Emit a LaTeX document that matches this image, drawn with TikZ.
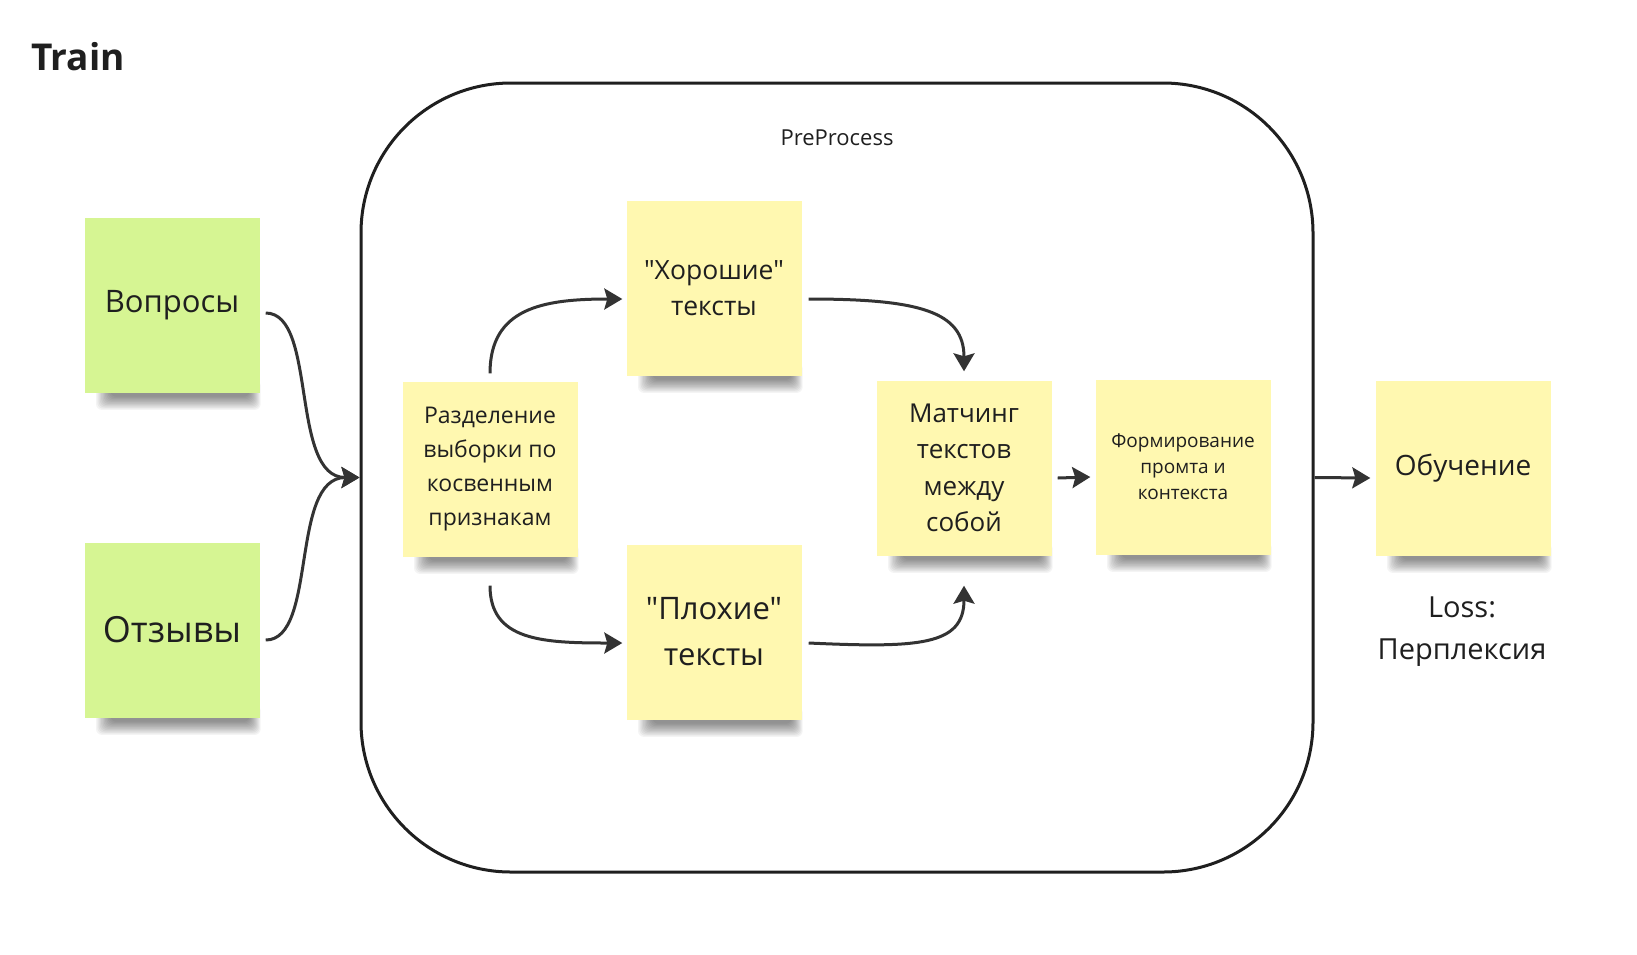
\documentclass[tikz,border=0pt]{standalone}
\usepackage{fontspec}
\setmainfont{Open Sans}[Ligatures=TeXOff]
\usetikzlibrary{arrows.meta,calc}
\definecolor{noteY}{HTML}{FFF8B0}
\definecolor{noteG}{HTML}{D6F593}
\definecolor{ink}{HTML}{1F1F1F}
\definecolor{wire}{HTML}{333333}
\pgfdeclarelayer{bglayer}
\pgfdeclarelayer{shadlayer}
\pgfsetlayers{bglayer,shadlayer,main}
\begin{document}
\begin{tikzpicture}[x=1pt,y=-1pt,
  note/.style={minimum width=175pt,minimum height=175pt,inner sep=0pt,align=center,text=ink},
  yel/.style={note,fill=noteY},
  grn/.style={note,fill=noteG},
  wirearrow/.style={draw=wire,line width=3pt,-{Stealth[length=18pt,width=21pt,inset=3pt]}},
  shadowlayer/.style={fill=black,fill opacity=0.045,rounded corners=6pt},
  plain/.style={inner sep=0pt,align=center,text=ink}
  ]
\begin{pgfonlayer}{bglayer}
  \fill[white] (0,0) rectangle (1637,954);
\end{pgfonlayer}
\useasboundingbox (0,0) rectangle (1637,954);

\node[plain,anchor=base west,font=\fontsize{37}{44}\selectfont\bfseries] (title) at (31,70) {Train};

\node[draw=ink,line width=3pt,rounded corners=150pt,minimum width=952pt,minimum height=789pt] (pre) at (837,477.5) {};
\node[plain,anchor=base,font=\fontsize{22}{28}\selectfont] (prelabel) at (837,145) {PreProcess};

\node[grn,font=\fontsize{31}{40}\selectfont] (vop) at (172,305) {Вопросы};
\node[grn,font=\fontsize{36}{46}\selectfont] (otz) at (172,630) {Отзывы};
\node[yel,font=\fontsize{23}{34}\selectfont] (raz) at (490,469) {Разделение\\выборки по\\косвенным\\признакам};
\node[yel,font=\fontsize{26.5}{36}\selectfont] (hor) at (714,288) {"Хорошие"\\тексты};
\node[yel,font=\fontsize{31}{46}\selectfont] (plo) at (714,632) {"Плохие"\\тексты};
\node[yel,font=\fontsize{26}{36.5}\selectfont] (mat) at (964,468) {Матчинг\\текстов\\между\\собой};
\node[yel,font=\fontsize{19}{26}\selectfont] (form) at (1183,467) {Формирование\\промта и\\контекста};
\node[yel,font=\fontsize{28}{36}\selectfont] (obu) at (1463,468) {Обучение};
\node[plain,font=\fontsize{29}{42}\selectfont] (loss) at (1462,632) {Loss:\\Перплексия};

\begin{pgfonlayer}{shadlayer}
  \foreach \n in {vop,otz,raz,hor,plo,mat,form,obu}
    \foreach \k in {0,...,11}
      \path[shadowlayer] ($(\n.south west)+(26-1.3*\k,-6-0.6*\k)$) rectangle ($(\n.south east)+(-10+1.0*\k,4+1.2*\k)$);
\end{pgfonlayer}

\draw[wirearrow] ([xshift=6pt,yshift=-8pt]vop.east) .. controls +(52,0) and +(-70,0) .. (pre.west);
\draw[wirearrow] ([xshift=6pt,yshift=-10pt]otz.east) .. controls +(52,0) and +(-70,0) .. (pre.west);
\draw[wirearrow] ([yshift=8pt]raz.north) .. controls +(0,-65) and +(-80,0) .. ([xshift=-4pt,yshift=-11pt]hor.west);
\draw[wirearrow] ([yshift=-29pt]raz.south) .. controls +(0,55) and +(-80,0) .. ([xshift=-4pt,yshift=-11pt]plo.west);
\draw[wirearrow] ([xshift=7pt,yshift=-11pt]hor.east) .. controls +(110,0) and +(0,-60) .. ([yshift=9pt]mat.north);
\draw[wirearrow] ([xshift=7pt,yshift=-11pt]plo.east) .. controls +(110,5) and +(0,60) .. ([yshift=-30pt]mat.south);
\draw[wirearrow] ([xshift=6pt,yshift=-10pt]mat.east) -- ([xshift=-5pt,yshift=-10pt]form.west);
\draw[wirearrow] (pre.east) -- ([xshift=-5pt,yshift=-10pt]obu.west);
\end{tikzpicture}
\end{document}
